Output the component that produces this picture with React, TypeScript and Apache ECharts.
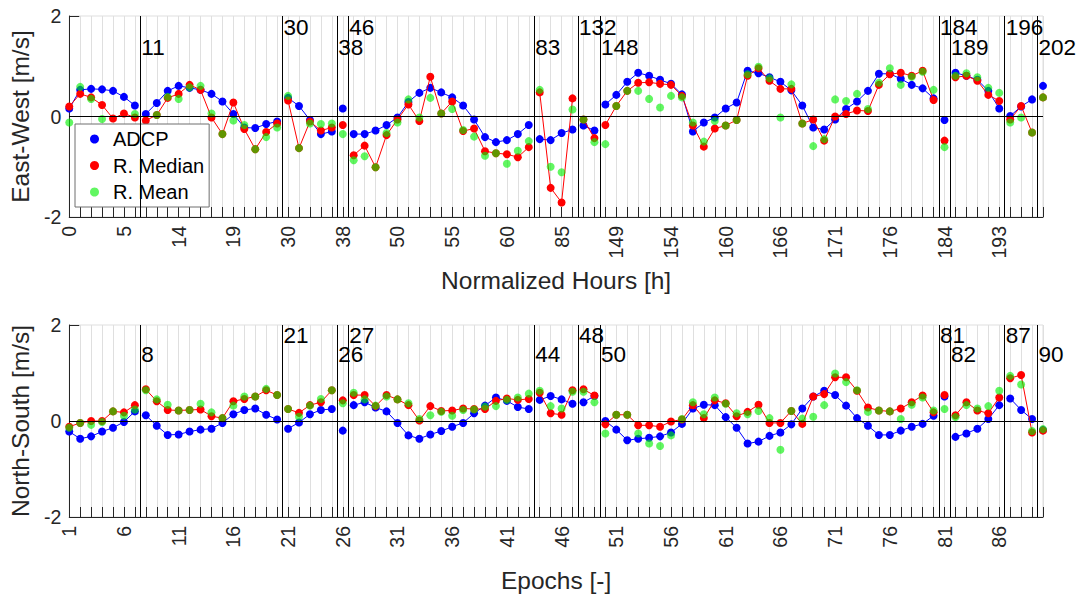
import React, { useEffect, useRef } from 'react';
import * as echarts from 'echarts';

const FONT = 'Liberation Sans, Arial, Helvetica, sans-serif';

// Tick labels (every 5th sample)
const hourTicks = ['0', '5', '14', '19', '30', '38', '50', '55', '60', '85', '149', '154', '160', '166', '171', '176', '184', '193'];
const epochTicks = ['1', '6', '11', '16', '21', '26', '31', '36', '41', '46', '51', '56', '61', '66', '71', '76', '81', '86'];

// Segment starts (1-based sample index) and their annotations
const segmentStarts = [8, 21, 26, 27, 44, 48, 50, 81, 82, 87, 90];
const hourMarks = ['11', '30', '38', '46', '83', '132', '148', '184', '189', '196', '202'];
const epochMarks = ['8', '21', '26', '27', '44', '48', '50', '81', '82', '87', '90'];

// East-West
const ewADCP = [0.16, 0.53, 0.55, 0.54, 0.51, 0.39, 0.22, 0.05, 0.27, 0.51, 0.61, 0.57, 0.53, 0.45, 0.30, 0.05, -0.22, -0.23, -0.15, -0.10,
  0.37, 0.21, -0.07, -0.35, -0.30, 0.16, -0.35, -0.35, -0.28, -0.17, -0.02, 0.29, 0.47, 0.57, 0.48, 0.38, 0.22, -0.06, -0.41, -0.51,
  -0.47, -0.35, -0.17, -0.45, -0.47, -0.33, -0.26, -0.18, -0.28, 0.24, 0.43, 0.69, 0.87, 0.81, 0.73, 0.65, 0.44, -0.30, -0.12, -0.02,
  0.16, 0.28, 0.91, 0.86, 0.78, 0.69, 0.52, 0.22, -0.22, -0.26, -0.06, 0.15, 0.30, 0.51, 0.85, 0.85, 0.75, 0.63, 0.56, 0.36,
  -0.07, 0.87, 0.81, 0.73, 0.51, 0.16, 0.01, 0.20, 0.34, 0.61];
const ewMedian = [0.20, 0.45, 0.38, 0.23, -0.04, 0.06, -0.02, -0.08, 0.03, 0.37, 0.45, 0.63, 0.53, -0.02, -0.35, 0.28, -0.25, -0.65, -0.31, -0.14,
  0.32, -0.63, -0.10, -0.28, -0.22, -0.17, -0.77, -0.58, -1.01, -0.37, -0.06, 0.24, -0.09, 0.79, 0.06, 0.30, -0.29, -0.24, -0.69, -0.73,
  -0.75, -0.81, -0.61, 0.48, -1.42, -1.71, 0.36, -0.06, -0.43, -0.17, 0.21, 0.51, 0.67, 0.68, 0.65, 0.63, 0.41, -0.18, -0.60, -0.24,
  -0.18, -0.07, 0.81, 0.96, 0.71, 0.55, 0.55, -0.14, -0.06, -0.48, 0.00, 0.05, 0.12, 0.11, 0.63, 0.84, 0.87, 0.81, 0.91, 0.33,
  -0.48, 0.78, 0.81, 0.71, 0.43, 0.31, -0.06, 0.21, -0.32, 0.38];
const ewMean = [-0.12, 0.59, 0.35, -0.05, null, null, 0.05, null, 0.03, 0.39, 0.35, 0.58, 0.61, 0.06, -0.35, -0.08, -0.17, -0.65, -0.41, -0.22,
  0.41, -0.63, -0.14, -0.15, -0.14, -0.35, -0.87, -0.79, -1.01, -0.33, -0.12, 0.34, -0.02, 0.37, 0.06, 0.15, -0.27, -0.40, -0.78, -0.73,
  -0.94, -0.68, -0.49, 0.53, -1.00, -1.11, 0.14, -0.06, -0.51, -0.55, 0.21, 0.51, 0.51, 0.35, 0.18, 0.41, 0.38, -0.12, -0.50, -0.09,
  -0.18, -0.07, 0.84, 0.99, 0.76, -0.02, 0.64, -0.14, -0.59, -0.45, 0.34, 0.31, 0.45, 0.15, 0.67, 0.96, 0.63, 0.79, 0.89, 0.53,
  -0.61, 0.81, 0.86, 0.78, 0.57, 0.47, -0.12, -0.02, -0.32, 0.38];

// North-South
const nsADCP = [-0.22, -0.37, -0.32, -0.22, -0.14, -0.02, 0.20, 0.12, -0.10, -0.29, -0.28, -0.22, -0.18, -0.16, -0.04, 0.14, 0.23, 0.26, 0.13, 0.03,
  -0.16, -0.03, 0.14, 0.23, 0.25, -0.20, 0.33, 0.39, 0.28, 0.20, -0.04, -0.30, -0.37, -0.28, -0.21, -0.12, -0.04, 0.16, 0.32, 0.49,
  0.42, 0.29, 0.25, 0.44, 0.52, 0.45, 0.36, 0.39, 0.52, 0.00, -0.18, -0.40, -0.37, -0.35, -0.32, -0.24, -0.06, 0.26, 0.34, 0.33,
  0.08, -0.14, -0.47, -0.43, -0.31, -0.24, -0.07, 0.26, 0.51, 0.63, 0.54, 0.32, 0.06, -0.10, -0.29, -0.29, -0.20, -0.12, -0.06, 0.11,
  0.51, -0.33, -0.26, -0.16, 0.04, 0.33, 0.47, 0.23, 0.04, -0.19];
const nsMedian = [-0.12, -0.04, 0.00, 0.00, 0.20, 0.18, 0.33, 0.66, 0.41, 0.23, 0.22, 0.23, 0.24, 0.10, 0.06, 0.41, 0.46, 0.51, 0.64, 0.54,
  0.25, 0.17, 0.33, 0.39, 0.64, 0.43, 0.54, 0.54, 0.31, 0.54, 0.45, 0.33, 0.01, 0.31, 0.21, 0.22, 0.26, 0.25, 0.25, 0.42,
  0.47, 0.44, 0.46, 0.59, 0.16, 0.13, 0.64, 0.66, 0.53, -0.07, 0.13, 0.13, -0.09, -0.09, -0.12, -0.01, 0.03, 0.33, 0.06, 0.43,
  0.37, 0.10, 0.19, 0.34, -0.04, -0.04, 0.21, -0.06, 0.51, 0.56, 0.91, 0.91, 0.63, 0.28, 0.22, 0.20, 0.26, 0.39, 0.53, 0.18,
  0.54, 0.12, 0.39, 0.22, 0.16, 0.49, 0.89, 0.96, -0.24, -0.20];
const nsMean = [-0.14, -0.04, -0.08, -0.02, 0.20, 0.11, 0.24, 0.64, 0.45, 0.34, 0.22, 0.23, 0.36, 0.18, 0.06, 0.32, 0.51, 0.51, 0.67, 0.54,
  0.25, 0.09, 0.32, 0.46, 0.64, 0.37, 0.59, 0.45, 0.32, 0.51, 0.45, 0.37, 0.04, 0.12, 0.19, 0.11, 0.23, 0.24, 0.30, 0.31,
  0.44, 0.49, 0.57, 0.63, 0.31, 0.26, 0.61, 0.61, 0.39, -0.26, 0.13, 0.13, -0.26, -0.47, -0.52, -0.30, 0.04, 0.39, 0.14, 0.49,
  0.36, 0.16, 0.14, 0.21, 0.06, -0.60, 0.21, 0.05, 0.09, 0.33, 0.99, 0.81, 0.64, 0.19, 0.22, 0.20, 0.04, 0.34, 0.49, 0.22,
  0.25, 0.08, 0.33, 0.26, 0.31, 0.63, 0.94, 0.76, -0.21, -0.17];

const MARK_ROWS = [1.38, 1.78]; // lower / upper annotation rows (in axis units)
const MEAN_COLOR = 'rgba(0,240,0,0.62)';

function toLine(vals: (number | null)[]) {
  const out: any[] = [];
  vals.forEach((v, i) => {
    if (i > 0 && segmentStarts.includes(i + 1)) out.push([i - 0.5, '-']);
    out.push([i, v == null ? '-' : v]);
  });
  return out;
}
function toScatter(vals: (number | null)[]) {
  const out: any[] = [];
  vals.forEach((v, i) => { if (v != null) out.push([i, v]); });
  return out;
}

function xAxisFor(gridIndex: number, ticks: string[], name: string) {
  return {
    type: 'value', gridIndex, min: 0, max: 89, interval: 1,
    name, nameLocation: 'middle', nameGap: 51,
    nameTextStyle: { fontSize: 24.5, color: '#262626', fontFamily: FONT },
    axisLine: { show: true, onZero: false, lineStyle: { color: '#262626', width: 1 } },
    axisTick: { show: true, inside: true, length: 10, lineStyle: { color: '#262626', width: 1 } },
    splitLine: { show: true, lineStyle: { color: '#dfdfdf', width: 1 } },
    axisLabel: {
      rotate: 90, fontSize: 19.5, color: '#262626', fontFamily: FONT, margin: 9,
      formatter: (v: number) => { const r = Math.round(v); return r % 5 === 0 && ticks[r / 5] ? ticks[r / 5] : ''; },
    },
  };
}
function yAxisFor(gridIndex: number, name: string) {
  return {
    type: 'value', gridIndex, min: -2, max: 2, interval: 2,
    name, nameLocation: 'middle', nameGap: 32,
    nameTextStyle: { fontSize: 24.5, color: '#262626', fontFamily: FONT },
    axisLine: { show: true, onZero: false, lineStyle: { color: '#262626', width: 1 } },
    axisTick: { show: true, inside: true, length: 10, lineStyle: { color: '#262626', width: 1 } },
    splitLine: { show: false },
    axisLabel: { fontSize: 19.5, color: '#262626', fontFamily: FONT, margin: 8 },
  };
}

function panelSeries(p: number, adcp: any[], med: any[], mean: any[], marks: string[]) {
  return [
    {
      type: 'scatter', xAxisIndex: p, yAxisIndex: p, silent: true, z: 1,
      symbolSize: 0, itemStyle: { color: 'rgba(0,0,0,0)', opacity: 1 },
      data: segmentStarts.map((s, k) => [s - 1.5, MARK_ROWS[k % 2], marks[k]]),
      label: {
        show: true, position: 'right', distance: 1, fontSize: 22.5, color: '#000', opacity: 1, fontFamily: FONT,
        formatter: (q: any) => q.data[2],
      },
      markLine: {
        silent: true, symbol: ['none', 'none'], label: { show: false },
        lineStyle: { color: '#000', width: 1, type: 'solid', opacity: 1 },
        emphasis: { disabled: true },
        data: [{ yAxis: 0 }, ...segmentStarts.map((s) => ({ xAxis: s - 1.5 }))],
      },
    },
    {
      name: 'ADCP', type: 'line', xAxisIndex: p, yAxisIndex: p, z: 2,
      data: toLine(adcp), symbol: 'circle', symbolSize: 8, showSymbol: true,
      itemStyle: { color: '#0000ff' }, lineStyle: { color: '#0000ff', width: 1 },
    },
    {
      name: 'R. Median', type: 'line', xAxisIndex: p, yAxisIndex: p, z: 3,
      data: toLine(med), symbol: 'circle', symbolSize: 8, showSymbol: true,
      itemStyle: { color: '#ff0000' }, lineStyle: { color: '#ff0000', width: 1 },
    },
    {
      name: 'R. Mean', type: 'scatter', xAxisIndex: p, yAxisIndex: p, z: 4,
      data: toScatter(mean), symbol: 'circle', symbolSize: 8,
      itemStyle: { color: MEAN_COLOR, opacity: 1 },
    },
  ];
}

export default function App() {
  const ref = useRef<HTMLDivElement>(null);
  useEffect(() => {
    if (!ref.current) return;
    const chart = echarts.init(ref.current, null, { renderer: 'svg' });
    chart.setOption({
      animation: false,
      backgroundColor: '#ffffff',
      textStyle: { fontFamily: FONT },
      grid: [
        { left: 65, top: 16, width: 978, height: 201, show: true, borderColor: '#dfdfdf', borderWidth: 1 },
        { left: 65, top: 325, width: 978, height: 201, show: true, borderColor: '#dfdfdf', borderWidth: 1 },
      ],
      xAxis: [xAxisFor(0, hourTicks, 'Normalized Hours [h]'), xAxisFor(1, epochTicks, 'Epochs [-]')],
      yAxis: [yAxisFor(0, 'East-West [m/s]'), yAxisFor(1, 'North-South [m/s]')],
      legend: {
        data: ['ADCP', 'R. Median', 'R. Mean'],
        orient: 'vertical', left: 75, top: 124,
        icon: 'circle', itemWidth: 9, itemHeight: 9, itemGap: 6.5,
        padding: [5, 5, 5, 15],
        backgroundColor: '#ffffff', borderColor: '#6e6e6e', borderWidth: 1,
        selectedMode: false,
        itemStyle: { opacity: 1 },
        textStyle: { fontSize: 20, lineHeight: 20, color: '#000', fontFamily: FONT, padding: [0, 0, 0, 9] },
      },
      series: [
        ...panelSeries(0, ewADCP, ewMedian, ewMean, hourMarks),
        ...panelSeries(1, nsADCP, nsMedian, nsMean, epochMarks),
      ],
    });
    return () => chart.dispose();
  }, []);
  return <div ref={ref} style={{ position: 'fixed', left: 0, top: 0, width: 1080, height: 594, background: '#fff' }} />;
}
